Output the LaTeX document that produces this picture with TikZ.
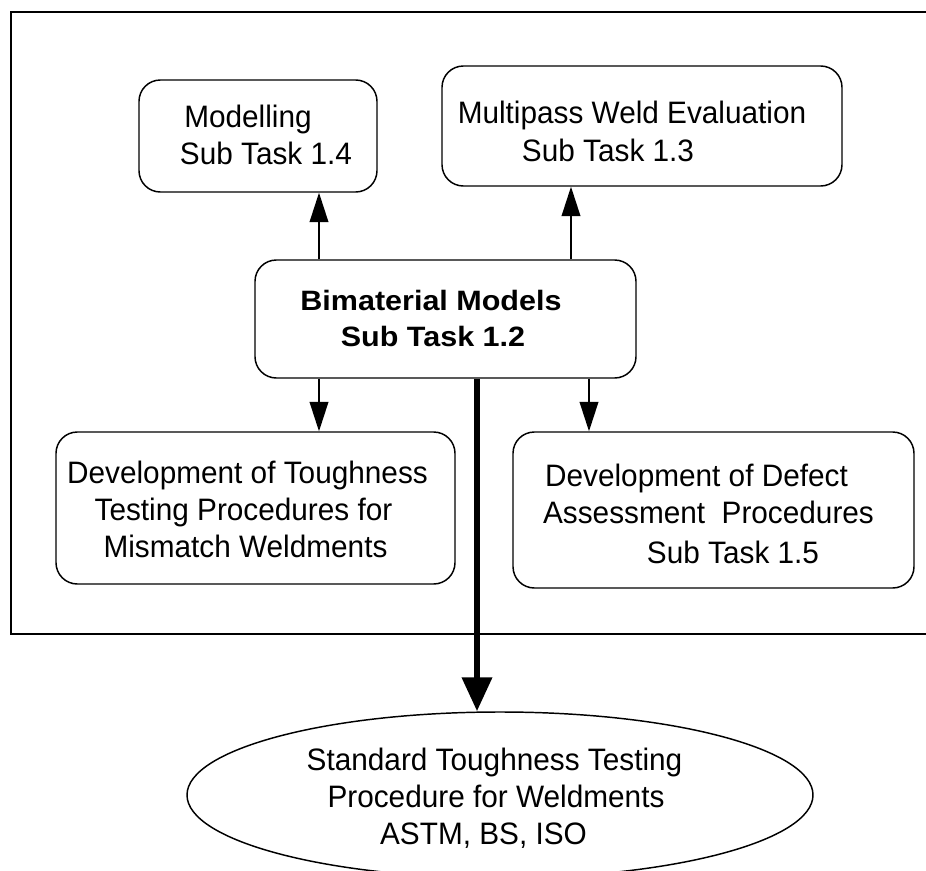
\documentclass[tikz,border=0pt]{standalone}
\usepackage{fontspec}
\setmainfont[FakeStretch=0.96]{Liberation Sans}
\newfontfamily\bimfont[FakeStretch=1.09]{Liberation Sans}
\usetikzlibrary{arrows.meta,shapes.geometric}
\begin{document}
\begin{tikzpicture}[x=0.75pt,y=-0.75pt,
  box/.style={draw,line width=1.1pt,rounded corners=16pt,inner sep=0pt},
  lbl/.style={anchor=base,inner sep=0pt,font=\fontsize{23.25pt}{27pt}\selectfont},
  blbl/.style={anchor=base,inner sep=0pt,font=\bimfont\bfseries\fontsize{21pt}{25pt}\selectfont},
  arr/.style={line width=1.1pt,-{Triangle[length=22pt,width=14pt]}},
  thick arr/.style={line width=4.5pt,-{Triangle[length=25.5pt,width=22pt]}},
  frame/.style={line width=1.1pt}]
\useasboundingbox (0,0) rectangle (926,871);
% frame
\draw[frame] (940,12) -- (11,12) -- (11,634) -- (940,634);
% boxes
\node[box,minimum width=178.5pt,minimum height=84pt] (mod) at (258,136) {};
\node[box,minimum width=300pt,minimum height=90pt] (mwe) at (642,126) {};
\node[box,minimum width=285.75pt,minimum height=88.5pt] (bim) at (445.5,319) {};
\node[box,minimum width=299.25pt,minimum height=114pt] (dtt) at (255.5,508) {};
\node[box,minimum width=300.75pt,minimum height=117pt] (dda) at (713.5,510) {};
\node[draw,ellipse,line width=1.1pt,inner sep=0pt,minimum width=469.5pt,minimum height=124.5pt] (ell) at (500,795) {};
% texts
\node[lbl] (t1a) at (248,127) {Modelling};
\node[lbl] (t1b) at (266,164) {Sub Task 1.4};
\node[lbl] (t2a) at (632,123) {Multipass Weld Evaluation};
\node[lbl] (t2b) at (608,161) {Sub Task 1.3};
\node[blbl] (t3a) at (431,310) {Bimaterial Models};
\node[blbl] (t3b) at (433,346) {Sub Task 1.2};
\node[lbl] (t4a) at (247.5,483) {Development of Toughness};
\node[lbl] (t4b) at (243.5,520) {Testing Procedures for};
\node[lbl] (t4c) at (245.5,557) {Mismatch Weldments};
\node[lbl] (t5a) at (696.5,486) {Development of Defect};
\node[lbl] (t5b) at (708.5,523) {Assessment\ \ Procedures};
\node[lbl] (t5c) at (733,563) {Sub Task 1.5};
\node[lbl] (t6a) at (494.5,770) {Standard Toughness Testing};
\node[lbl] (t6b) at (496,807) {Procedure for Weldments};
\node[lbl] (t6c) at (483.5,844) {ASTM, BS, ISO};
% connector columns
\coordinate (xa) at (319,0);
\coordinate (xb) at (571,0);
\coordinate (xc) at (589,0);
\coordinate (xd) at (477,0);
% connectors
\draw[arr] (bim.north -| xa) -- (mod.south -| xa);
\draw[arr] (bim.north -| xb) -- (mwe.south -| xb);
\draw[arr] (bim.south -| xa) -- (dtt.north -| xa);
\draw[arr] (bim.south -| xc) -- (dda.north -| xc);
\draw[thick arr] (bim.south -| xd) -- (ell.north -| xd);
\end{tikzpicture}
\end{document}
